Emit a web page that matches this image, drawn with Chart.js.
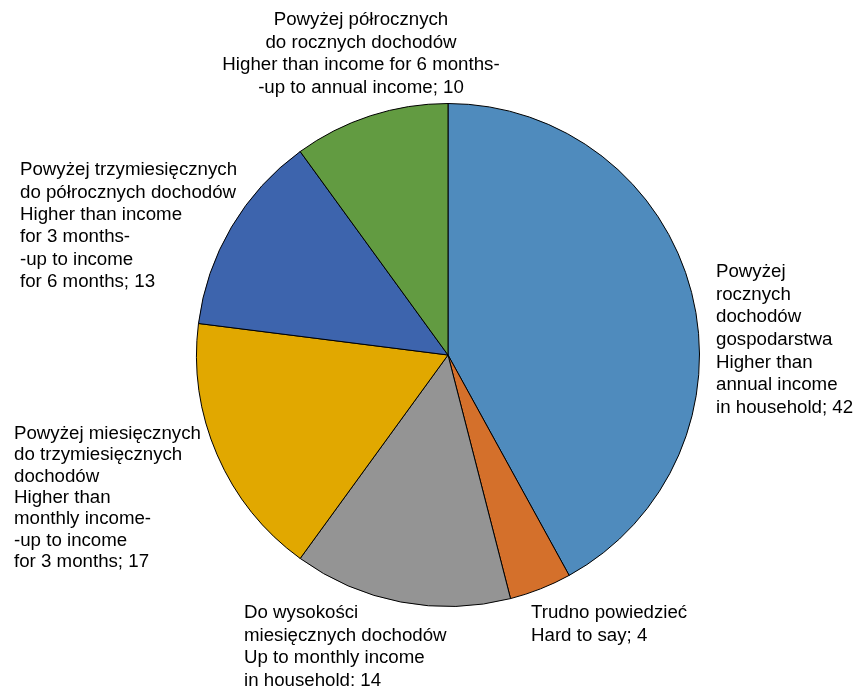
<!DOCTYPE html>
<html>
<head>
<meta charset="utf-8">
<script src="https://cdn.jsdelivr.net/npm/chart.js@4"></script>
<style>
html,body{margin:0;padding:0;background:#fff;}
#wrap{width:853px;height:686px;position:relative;}
</style>
</head>
<body>
<div id="wrap"><canvas id="c" width="853" height="686"></canvas></div>
<script>
const categories = [
  "Powyżej rocznych dochodów gospodarstwa / Higher than annual income in household",
  "Trudno powiedzieć / Hard to say",
  "Do wysokości miesięcznych dochodów / Up to monthly income in household",
  "Powyżej miesięcznych do trzymiesięcznych dochodów / Higher than monthly income-up to income for 3 months",
  "Powyżej trzymiesięcznych do półrocznych dochodów / Higher than income for 3 months-up to income for 6 months",
  "Powyżej półrocznych do rocznych dochodów / Higher than income for 6 months-up to annual income"
];
const values = [42, 4, 14, 17, 13, 10];
const labelLines = [
  ["Powyżej", "rocznych", "dochodów", "gospodarstwa", "Higher than", "annual income", "in household; 42"],
  ["Trudno powiedzieć", "Hard to say; 4"],
  ["Do wysokości", "miesięcznych dochodów", "Up to monthly income", "in household; 14"],
  ["Powyżej miesięcznych", "do trzymiesięcznych", "dochodów", "Higher than", "monthly income-", "-up to income", "for 3 months; 17"],
  ["Powyżej trzymiesięcznych", "do półrocznych dochodów", "Higher than income", "for 3 months-", "-up to income", "for 6 months; 13"],
  ["Powyżej półrocznych", "do rocznych dochodów", "Higher than income for 6 months-", "-up to annual income; 10"]
];
const colors = ["#4F8BBD", "#D4702B", "#949494", "#E1A800", "#3D64AD", "#629B41"];

// label placement (text anchor, first-line centre)
const labelPlace = [
  {x: 716, y: 272, align: "left", lh: 22.6},
  {x: 531, y: 613, align: "left", lh: 22.6},
  {x: 244, y: 613, align: "left", lh: 22.6},
  {x: 14, y: 434, align: "left", lh: 21.3},
  {x: 20, y: 170, align: "left", lh: 22.4},
  {x: 361, y: 20, align: "center", lh: 22.6}
];

const labelPlugin = {
  id: "outLabels",
  afterDraw(chart) {
    const ctx = chart.ctx;
    ctx.save();
    ctx.fillStyle = "#000";
    ctx.font = "18.7px 'Liberation Sans', Arial, sans-serif";
    ctx.textBaseline = "middle";
    labelLines.forEach((lines, i) => {
      const p = labelPlace[i];
      ctx.textAlign = p.align;
      lines.forEach((t, j) => ctx.fillText(t, p.x, p.y + j * p.lh));
    });
    ctx.restore();
  }
};

new Chart(document.getElementById("c"), {
  type: "pie",
  data: {
    labels: categories,
    datasets: [{
      data: values,
      backgroundColor: colors,
      borderColor: "#000",
      borderWidth: 1
    }]
  },
  options: {
    responsive: false,
    animation: false,
    layout: {padding: {left: 196, right: 153, top: 103, bottom: 79}},
    plugins: {legend: {display: false}, tooltip: {enabled: false}}
  },
  plugins: [labelPlugin]
});
</script>
</body>
</html>
